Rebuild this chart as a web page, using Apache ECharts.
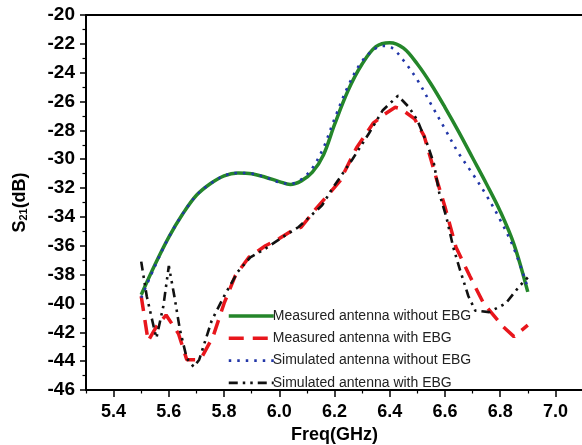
<!DOCTYPE html>
<html>
<head>
<meta charset="utf-8">
<script src="https://cdn.jsdelivr.net/npm/echarts@6/dist/echarts.min.js"></script>
<style>html,body{margin:0;padding:0;background:#fff;}#c{width:582px;height:445px;}</style>
</head>
<body>
<div id="c"></div>
<script>
// ---- data ----
const seriesNames = ['Measured antenna without EBG', 'Measured antenna with EBG', 'Simulated antenna without EBG', 'Simulated antenna with EBG'];

const measNoEbgFreq = [5.50, 5.55, 5.60, 5.65, 5.70, 5.75, 5.80, 5.85, 5.90, 5.95, 6.00, 6.04, 6.08, 6.12, 6.16, 6.20, 6.25, 6.30, 6.35, 6.40, 6.45, 6.50, 6.55, 6.60, 6.65, 6.70, 6.75, 6.80, 6.85, 6.90];
const measNoEbgDb   = [-39.4, -37.3, -35.4, -33.8, -32.5, -31.7, -31.15, -30.95, -31.0, -31.25, -31.55, -31.75, -31.5, -30.9, -29.7, -27.6, -25.2, -23.4, -22.2, -21.92, -22.3, -23.4, -24.8, -26.4, -28.1, -29.9, -31.7, -33.6, -35.9, -39.2];

const measEbgFreq = [5.50, 5.525, 5.555, 5.59, 5.635, 5.665, 5.70, 5.72, 5.76, 5.80, 5.84, 5.89, 5.95, 6.00, 6.05, 6.08, 6.13, 6.18, 6.22, 6.28, 6.34, 6.38, 6.42, 6.44, 6.49, 6.525, 6.57, 6.60, 6.64, 6.69, 6.74, 6.81, 6.85, 6.90];
const measEbgDb   = [-39.5, -42.6, -41.6, -40.8, -42.1, -43.9, -43.9, -43.7, -42.3, -40.0, -38.1, -36.8, -36.0, -35.5, -34.9, -34.7, -33.5, -32.4, -31.5, -29.2, -27.5, -26.9, -26.4, -26.5, -27.2, -28.4, -31.4, -33.3, -36.1, -38.1, -40.0, -41.6, -42.3, -41.5];

const simNoEbgFreq = [5.50, 5.55, 5.60, 5.65, 5.70, 5.75, 5.80, 5.85, 5.90, 5.95, 6.00, 6.04, 6.08, 6.12, 6.16, 6.20, 6.25, 6.30, 6.35, 6.38, 6.41, 6.45, 6.50, 6.55, 6.60, 6.65, 6.70, 6.75, 6.80, 6.85, 6.90];
const simNoEbgDb   = [-39.6, -37.4, -35.4, -33.8, -32.5, -31.7, -31.15, -30.95, -31.0, -31.25, -31.6, -31.7, -31.4, -30.6, -29.2, -27.2, -24.9, -23.2, -22.3, -22.15, -22.3, -23.15, -24.5, -26.2, -27.9, -29.6, -31.0, -32.5, -34.2, -36.2, -38.9];

const simEbgFreq = [5.50, 5.52, 5.545, 5.555, 5.58, 5.60, 5.62, 5.64, 5.665, 5.69, 5.71, 5.755, 5.80, 5.85, 5.895, 5.95, 6.02, 6.07, 6.155, 6.19, 6.24, 6.265, 6.325, 6.375, 6.43, 6.47, 6.50, 6.535, 6.56, 6.58, 6.605, 6.63, 6.655, 6.685, 6.71, 6.76, 6.82, 6.87, 6.90];
const simEbgDb   = [-37.1, -39.5, -41.6, -42.4, -40.2, -37.4, -39.5, -41.8, -43.8, -44.4, -43.9, -41.2, -39.5, -37.8, -36.8, -36.2, -35.3, -34.7, -33.2, -32.1, -30.7, -30.0, -28.2, -26.6, -25.6, -26.4, -27.3, -28.9, -30.3, -32.4, -34.0, -36.1, -37.7, -39.5, -40.5, -40.6, -40.0, -38.8, -38.2];

const xMajorTicks = [5.4, 5.6, 5.8, 6.0, 6.2, 6.4, 6.6, 6.8, 7.0];
const xMinorTicks = [5.3, 5.5, 5.7, 5.9, 6.1, 6.3, 6.5, 6.7, 6.9, 7.1];
const xRange = [5.3, 7.1];
const yRange = [-46, -20];
const yStep = 2;

const zip = (xs, ys) => xs.map((x, i) => [x, ys[i]]);

const chart = echarts.init(document.getElementById('c'), null, {renderer: 'canvas'});
const FONT = 'Liberation Sans, Arial, sans-serif';

const styles = [
  {color: '#24862a', width: 3.5, type: 'solid'},
  {color: '#e8161c', width: 3.5, type: [15, 9]},
  {color: '#2236a8', width: 2.6, type: [2.5, 6]},
  {color: '#111111', width: 2.6, type: [9, 5, 2.5, 5, 2.5, 5]}
];

const baseX = {
  type: 'value', min: xRange[0], max: xRange[1], gridIndex: 0,
  splitLine: {show: false}
};

chart.setOption({
  animation: false,
  backgroundColor: '#fff',
  grid: {left: 86, right: -1, top: 15, bottom: 55, containLabel: false, outerBoundsMode: 'none'},
  xAxis: [
    Object.assign({}, baseX, {
      position: 'bottom',
      axisLine: {show: true, lineStyle: {color: '#000', width: 2}},
      axisTick: {show: true, length: 7, inside: false, customValues: xMajorTicks, lineStyle: {color: '#000', width: 1.5}},
      axisLabel: {show: true, customValues: xMajorTicks, margin: 13, color: '#000', fontSize: 18, fontWeight: 'bold', fontFamily: FONT,
        formatter: v => v.toFixed(1)},
      name: 'Freq(GHz)', nameLocation: 'middle', nameGap: 28,
      nameTextStyle: {color: '#000', fontSize: 18, fontWeight: 'bold', fontFamily: FONT}
    }),
    Object.assign({}, baseX, {
      position: 'bottom',
      axisLine: {show: false},
      axisTick: {show: true, length: 3.5, customValues: xMinorTicks, lineStyle: {color: '#000', width: 1.2}},
      axisLabel: {show: false}
    }),
    Object.assign({}, baseX, {
      position: 'top',
      axisLine: {show: true, lineStyle: {color: '#000', width: 2}},
      axisTick: {show: false},
      axisLabel: {show: false}
    })
  ],
  yAxis: [{
    type: 'value', min: yRange[0], max: yRange[1], interval: yStep,
    axisLine: {show: true, lineStyle: {color: '#000', width: 2}},
    axisTick: {show: true, length: 6, lineStyle: {color: '#000', width: 1.5}},
    minorTick: {show: true, splitNumber: 2, length: 3.5, lineStyle: {color: '#000', width: 1.2}},
    splitLine: {show: false},
    axisLabel: {margin: 11, color: '#000', fontSize: 19, fontWeight: 'bold', fontFamily: FONT},
    name: '{a|S}{b|21}{a|(dB)}', nameLocation: 'middle', nameGap: 57, nameRotate: 90,
    nameTextStyle: {
      color: '#000', fontSize: 18, fontWeight: 'bold', fontFamily: FONT,
      rich: {
        a: {fontSize: 18, fontWeight: 'bold', fontFamily: FONT, color: '#000'},
        b: {fontSize: 11, fontWeight: 'bold', fontFamily: FONT, color: '#000', padding: [7, 0, 0, 0]}
      }
    }
  }],
  legend: {
    orient: 'vertical', left: 222, top: 304,
    itemWidth: 45, itemHeight: 14, itemGap: 8.3,
    selectedMode: false,
    itemStyle: {opacity: 0},
    textStyle: {color: '#222', fontSize: 14, fontFamily: FONT, padding: [0, 0, 0, -6]},
    data: seriesNames.map((n, i) => ({name: n, lineStyle: {width: styles[i].width, type: styles[i].type, color: styles[i].color}}))
  },
  series: seriesNames.map((n, i) => ({
    name: n, type: 'line', xAxisIndex: 0, showSymbol: false, symbol: 'none',
    smooth: (i === 0 || i === 2) ? 0.35 : false, z: 3 + i,
    data: [zip(measNoEbgFreq, measNoEbgDb), zip(measEbgFreq, measEbgDb), zip(simNoEbgFreq, simNoEbgDb), zip(simEbgFreq, simEbgDb)][i],
    lineStyle: {color: styles[i].color, width: styles[i].width, type: styles[i].type},
    itemStyle: {color: styles[i].color}
  }))
});
</script>
</body>
</html>
